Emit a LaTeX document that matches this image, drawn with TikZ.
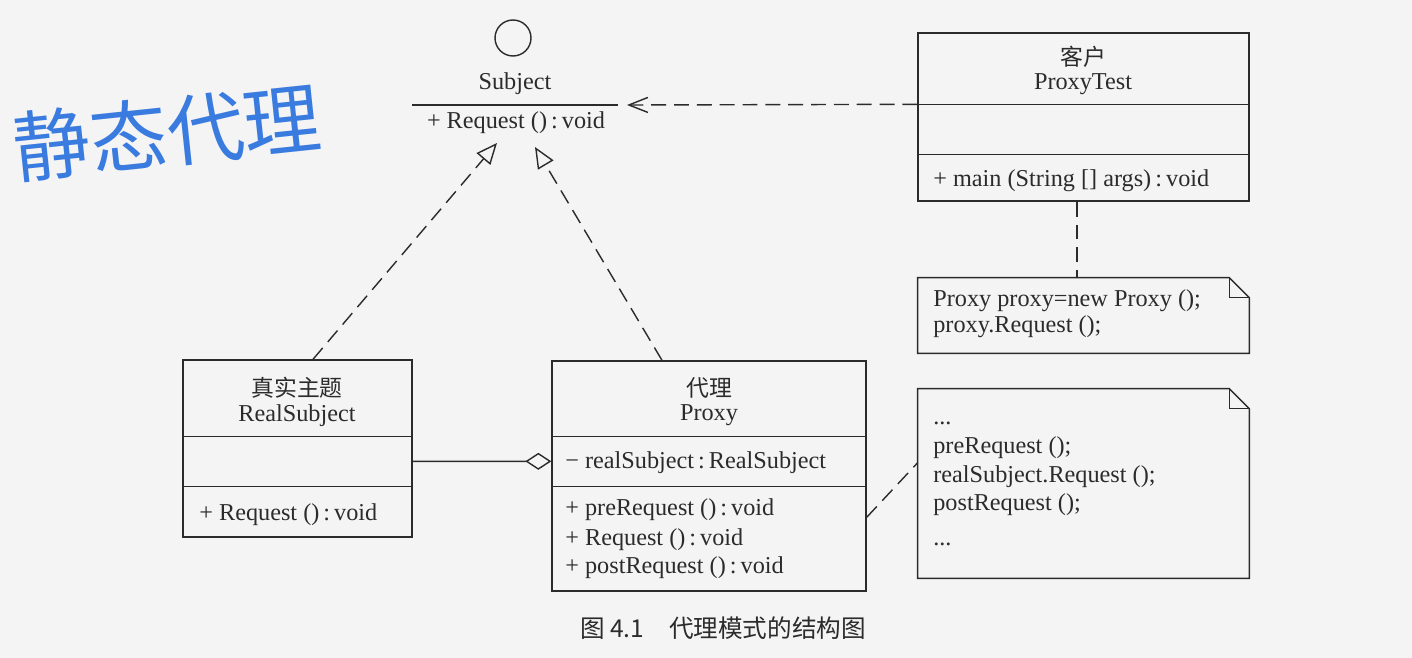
\documentclass[tikz,border=0pt]{standalone}
\usepackage{fontspec}
\setmainfont{Liberation Serif}
\newfontfamily\cjk{Noto Sans CJK SC}
\usetikzlibrary{arrows.meta,calc}
\definecolor{inkgray}{HTML}{2B2B2B}
\definecolor{paper}{HTML}{F4F4F4}
\definecolor{penblue}{HTML}{3A7BE0}

\begin{document}
\begin{tikzpicture}[x=0.02cm,y=-0.02cm,
box/.style={draw=inkgray,line width=0.8pt,inner sep=0pt},
sep/.style={draw=inkgray,line width=0.8pt},
dep/.style={draw=inkgray,line width=0.8pt,dash pattern=on 8.5pt off 4.5pt},
txt/.style={font=\fontsize{13.8}{16}\selectfont,text=inkgray,inner sep=0pt,anchor=base west},
ttl/.style={font=\fontsize{13.8}{16}\selectfont,text=inkgray,inner sep=0pt,anchor=base},
han/.style={font=\cjk\fontsize{13}{15}\selectfont,text=inkgray,inner sep=0pt},
realize/.style={dep,-{Triangle[open,length=0.42cm,width=0.36cm]}}]
\useasboundingbox (0,0) rectangle (1412,658);
\fill[paper] (0,0) rectangle (1412,658);
% interface Subject
\node[box,circle,minimum size=0.72cm] (iface) at (513,38) {};
\node[ttl] (subj) at (515,90) {Subject};
\coordinate (subjL) at (412,105);
\coordinate (subjR) at (618,105);
\draw[sep] (subjL) -- (subjR);
\node[ttl] (subjop) at (516,129) {+ Request ()\,:\,void};
\coordinate (subjtip) at (627,105);
\coordinate (inhL) at (497,143);
\coordinate (inhR) at (535,147);
% client
\node[box,minimum width=6.62cm,minimum height=3.36cm] (client) at (1083.5,117) {};
\node[han] (clientcn) at (1083,57) {客户};
\node[ttl] (clientname) at (1083,90) {ProxyTest};
\draw[sep] ($(client.north west)+(0,72)$) -- ($(client.north east)+(0,72)$);
\draw[sep] ($(client.north west)+(0,122)$) -- ($(client.north east)+(0,122)$);
\node[txt] (clientop) at (933,187) {+ main (String [] args)\,:\,void};
\draw[dep,-{Straight Barb[length=0.38cm,width=0.3cm]}] ($(client.north west)+(0,72)$) -- (subjtip);
% notes
\node[minimum width=6.62cm,minimum height=1.5cm,inner sep=0pt] (note1) at (1083.5,315.5) {};
\draw[sep] (note1.north west) -- ($(note1.north east)+(-20,0)$) -- ($(note1.north east)+(0,20)$) -- (note1.south east) -- (note1.south west) -- cycle;
\draw[sep] ($(note1.north east)+(-20,0)$) |- ($(note1.north east)+(0,20)$);
\node[txt] (note1a) at (933,307) {Proxy proxy=new Proxy ();};
\node[txt] (note1b) at (933,333) {proxy.Request ();};
\draw[dep] ($(client.south)+(-6.5,0)$) -- ($(note1.north)+(-6.5,0)$);
\node[minimum width=6.62cm,minimum height=3.78cm,inner sep=0pt] (note2) at (1083.5,483.5) {};
\draw[sep] (note2.north west) -- ($(note2.north east)+(-20,0)$) -- ($(note2.north east)+(0,20)$) -- (note2.south east) -- (note2.south west) -- cycle;
\draw[sep] ($(note2.north east)+(-20,0)$) |- ($(note2.north east)+(0,20)$);
\node[txt] (note2a) at (933,424) {...};
\node[txt] (note2b) at (933,453) {preRequest ();};
\node[txt] (note2c) at (933,482) {realSubject.Request ();};
\node[txt] (note2d) at (933,510) {postRequest ();};
\node[txt] (note2e) at (933,545) {...};
% RealSubject
\node[box,minimum width=4.58cm,minimum height=3.54cm] (real) at (297.5,448.5) {};
\node[han] (realcn) at (297,388) {真实主题};
\node[ttl] (realname) at (297,421) {RealSubject};
\draw[sep] ($(real.north west)+(0,77)$) -- ($(real.north east)+(0,77)$);
\draw[sep] ($(real.north west)+(0,127)$) -- ($(real.north east)+(0,127)$);
\node[txt] (realop) at (199,520) {+ Request ()\,:\,void};
% Proxy
\node[box,minimum width=6.28cm,minimum height=4.6cm] (proxy) at (709,476) {};
\node[han] (proxycn) at (709,388) {代理};
\node[ttl] (proxyname) at (709,420) {Proxy};
\draw[sep] ($(proxy.north west)+(0,76)$) -- ($(proxy.north east)+(0,76)$);
\draw[sep] ($(proxy.north west)+(0,126)$) -- ($(proxy.north east)+(0,126)$);
\node[txt] (proxyattr) at (565,468) {− realSubject\,:\,RealSubject};
\node[txt] (proxyop1) at (565,515) {+ preRequest ()\,:\,void};
\node[txt] (proxyop2) at (565,545) {+ Request ()\,:\,void};
\node[txt] (proxyop3) at (565,573) {+ postRequest ()\,:\,void};
% relations
\draw[realize] ($(real.north)+(15.5,0)$) -- (inhL);
\draw[realize] ($(proxy.north)+(-47,0)$) -- (inhR);
\draw[sep,-{Diamond[open,length=0.52cm,width=0.34cm]}] ($(real.north east)+(0,102)$) -- ($(proxy.north west)+(0,101)$);
\draw[dep] ($(proxy.north east)+(0,157)$) -- ($(note2.north west)+(0,74)$);
% caption and handwriting
\node[font=\cjk\fontsize{14}{16}\selectfont,text=inkgray] (caption) at (723,628) {图 4.1\quad 代理模式的结构图};
\node[font=\cjk\fontsize{44}{48}\selectfont,text=penblue,rotate=6] (scrawl) at (167,132) {静态代理};
\end{tikzpicture}
\end{document}
